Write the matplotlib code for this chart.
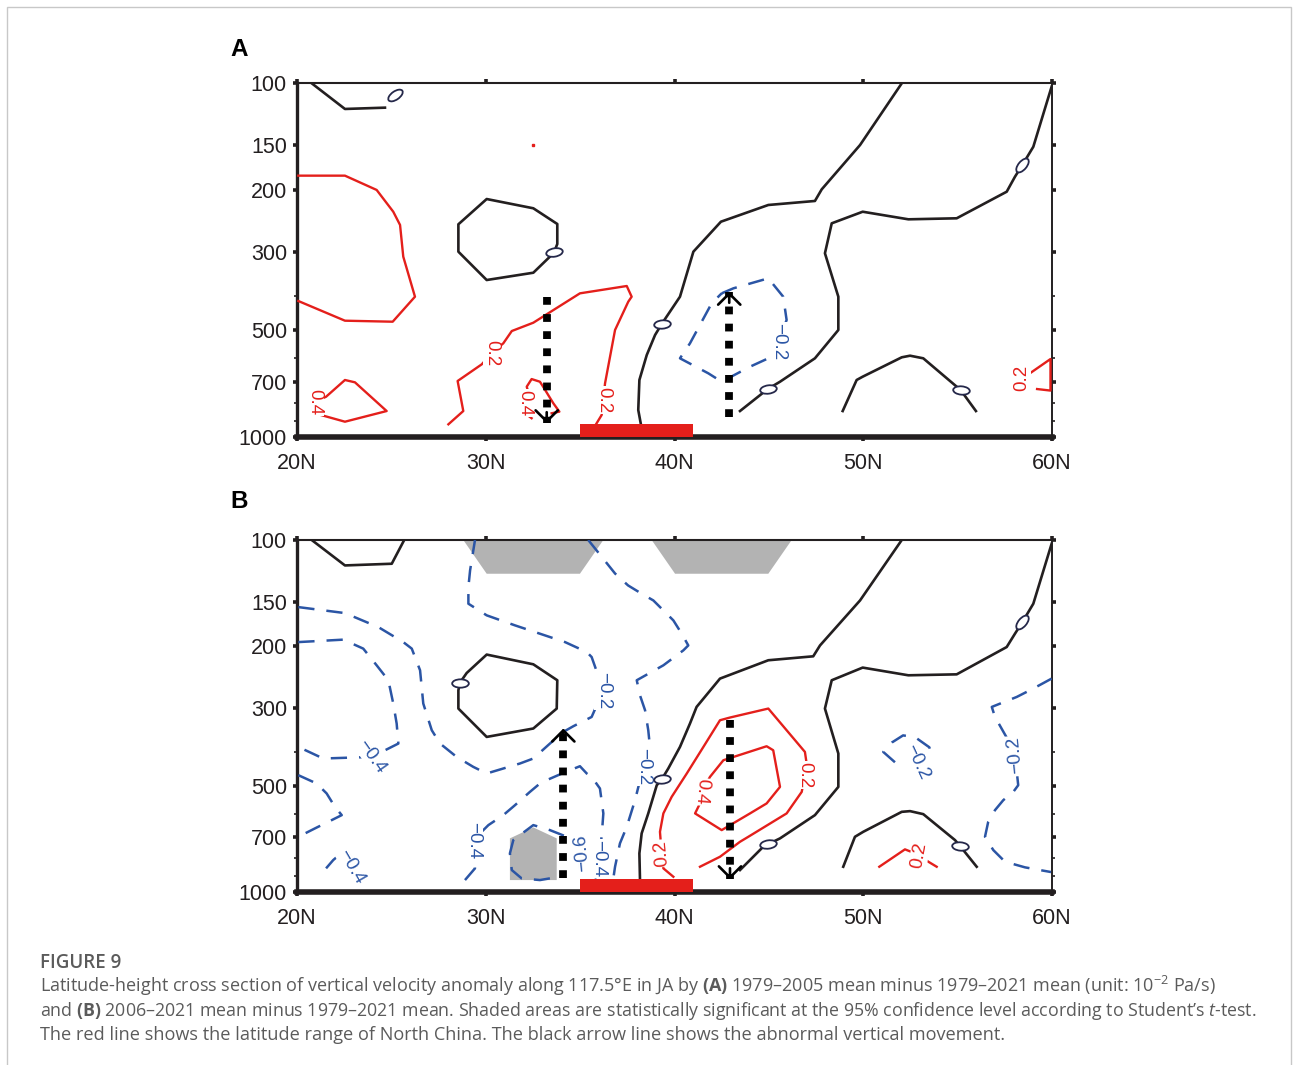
import numpy as np
import matplotlib.pyplot as plt
from matplotlib.path import Path
from matplotlib.transforms import Affine2D
from matplotlib.patches import Rectangle
from matplotlib.ticker import FixedLocator, NullFormatter

plt.rcParams['font.family'] = ['Liberation Sans', 'DejaVu Sans']
plt.rcParams['mathtext.fontset'] = 'custom'
plt.rcParams['mathtext.rm'] = 'Open Sans'
plt.rcParams['mathtext.bf'] = 'Open Sans:bold'
plt.rcParams['mathtext.it'] = 'Open Sans:italic'

# axes
lat_ticks = [20, 30, 40, 50, 60]
lat_labels = ['20N', '30N', '40N', '50N', '60N']
p_ticks = [100, 150, 200, 300, 500, 700, 1000]
p_minor = [400, 600, 800, 900]
north_china = [35, 41]      # latitude range of North China
north_china_top = 920

# ---------------- panel A (lat, hPa) ----------------
a_black = [
    [(20.78, 100.2), (22.54, 118.4), (24.66, 117.4)],
    [(33.63, 299.6), (33.40, 309.4), (32.52, 343.5), (30.05, 360.2), (28.55, 299.6), (28.55, 250.7),
     (30.05, 212.7), (32.52, 225.9), (33.79, 250.2), (33.79, 285), (33.63, 299.6)],
    [(38.21, 914.8), (38.08, 839.1), (38.14, 690.2), (38.53, 586.7), (38.97, 515.1), (39.32, 479.6),
     (40.29, 401.5), (41.0, 299.6), (42.46, 246.5), (44.97, 221.1), (47.44, 215.4), (47.80, 199.7),
     (49.83, 149.7), (52.04, 100.2)],
    [(43.47, 844.6), (44.94, 732), (45.59, 698), (47.44, 599.4), (48.68, 498.6), (48.68, 401.5),
     (47.97, 302.7), (48.33, 249.1), (49.97, 231), (52.39, 242.7), (54.95, 241.1), (57.60, 202.8),
     (58.04, 183.9), (58.43, 170.4), (59.01, 151.4), (59.98, 102.4)],
    [(48.91, 844.6), (49.65, 690.2), (49.97, 675.5), (52.04, 595.5), (52.48, 589.3), (53.18, 599.4),
     (54.91, 717.8), (55.16, 736.7), (55.97, 844.6)],
]
a_red = [
    [(20.07, 182.7), (22.54, 182.7), (24.22, 200.5), (25.10, 231), (25.46, 251.8), (25.63, 309.4),
     (26.25, 401.5), (25.07, 472.4), (22.54, 469.3), (20.07, 412.9)],
    [(28.02, 920.8), (28.81, 844.6), (28.51, 694.7), (29.79, 623.2), (30.32, 579.1), (30.93, 543.7),
     (31.38, 501.9), (32.52, 475.5), (34.99, 392.8), (37.47, 374.5), (37.73, 401.5), (37.55, 414.8),
     (36.85, 498.6), (36.32, 705.3), (36.23, 786.3), (36.14, 866.8), (35.84, 920.8)],
    [(32.43, 885), (32.08, 857), (32.08, 803), (32.25, 745), (32.17, 721), (32.43, 686), (32.87, 698),
     (33.04, 721), (33.31, 761), (33.58, 803), (33.90, 848), (33.49, 857)],
    [(20.95, 795), (21.54, 769.6), (22.54, 690.2), (23.07, 700.7), (24.75, 844.6), (22.54, 905.3),
     (20.95, 857.3), (20.95, 795)],
    [(58.83, 660.8), (59.92, 602.2), (59.92, 739.4), (59.21, 732)],
]
a_blue = [
    [(42.50, 392.8), (43.12, 380.2), (44.97, 356.2), (45.76, 401.5), (45.94, 467.2), (45.50, 538.1),
     (44.97, 599.4), (44.0, 633), (42.50, 698), (41.79, 660.8), (40.29, 599.4), (40.82, 543.7),
     (41.97, 419.1), (42.50, 392.8)],
]
a_labels = [
    (30.32, 579.1, '0.2', -90, 'r'),
    (32.08, 803, '0.4', -90, 'r'),
    (36.23, 786.3, '0.2', -90, 'r'),
    (20.95, 795, '0.4', -90, 'r'),
    (58.41, 681, '0.2', 90, 'r'),
    (45.50, 538, '\u22120.2', -90, 'b'),
]
a_zeros = [(25.19, 108.1, 35), (33.63, 299.6, 10), (39.32, 479.6, 5),
           (44.94, 732, 8), (58.43, 170.4, 50), (55.16, 736.7, -5)]
a_arrows = [(33.23, 401.5, 914.8), (42.90, 876.4, 388.6)]   # lat, tail, tip
a_shades = []
a_dots = [(32.50, 149.7)]

# ---------------- panel B (lat, hPa) ----------------
b_black = [
    [(20.78, 100), (22.54, 118.1), (25.02, 116.8), (25.68, 100)],
    [(28.64, 254), (28.99, 238.7), (30.05, 211.6), (32.52, 225.5), (33.79, 250.3), (33.76, 301.2),
     (32.52, 343.2), (30.05, 362.6), (28.55, 301.2), (28.55, 267.2), (28.64, 254)],
    [(38.17, 914.7), (38.14, 776.6), (38.26, 681.6), (38.61, 598.1), (39.06, 497.3), (39.32, 479),
     (39.67, 445.8), (40.29, 387.1), (40.82, 332.2), (41.17, 298), (42.41, 247.6), (44.97, 219.6),
     (47.35, 214), (47.71, 199.3), (49.83, 148.5), (52.04, 100)],
    [(43.47, 866.3), (44.70, 743.9), (44.94, 732.3), (45.59, 704.2), (47.44, 604.8), (48.68, 502.8),
     (48.68, 404.2), (47.97, 301.2), (48.33, 250.3), (49.97, 230.4), (52.39, 242.3), (54.95, 240.8),
     (57.60, 201.4), (58.04, 184.5), (58.43, 171.1), (59.01, 151.7), (59.98, 102.5)],
    [(48.94, 847.7), (49.56, 696.9), (50.0, 674.5), (52.04, 591.9), (52.48, 589.2), (53.18, 600.9),
     (54.86, 712), (55.13, 740.5), (56.01, 847.7)],
]
b_red = [
    [(39.94, 905.1), (39.41, 856.7), (39.32, 776.6), (39.23, 674.5), (39.41, 598.1), (39.85, 536.7),
     (40.65, 460.6), (41.53, 387.1), (42.41, 325.1), (42.94, 319.4), (44.97, 301.2), (46.91, 400),
     (47.0, 431.5), (46.91, 465.7), (46.74, 519.5), (45.94, 598.1), (43.91, 696.9), (43.47, 720),
     (42.41, 794.1), (41.35, 847.7)],
    [(41.44, 519.5), (41.88, 470.9), (42.59, 422.3), (44.88, 385.4), (45.23, 395.6), (45.59, 502.8),
     (44.88, 560.3), (44.0, 598.1), (42.50, 667.1), (41.09, 598.1), (41.35, 560.3), (41.44, 519.5)],
    [(50.85, 847.7), (52.21, 756.6), (52.97, 785.2), (53.45, 820.4), (53.89, 847.7)],
]
b_blue = [
    [(20.07, 155.1), (22.54, 161.3), (24.31, 176.8), (25.63, 195), (26.08, 203.5), (26.52, 234.5),
     (26.69, 291.5), (27.14, 347.1), (27.58, 378.7), (28.46, 413.3), (29.34, 441.1), (30.05, 460.6),
     (30.93, 445.8), (31.81, 431.5), (32.52, 417.6), (33.40, 378.7), (34.11, 350.9), (34.64, 338.1),
     (35.61, 318.2), (36.23, 267.2), (35.61, 215), (35.35, 208.1), (34.20, 195), (31.55, 174.8),
     (30.05, 163.7), (29.08, 151.7), (29.08, 136.1), (29.17, 122.0), (29.43, 100)],
    [(20.07, 195), (22.45, 191.9), (23.51, 203.5), (24.22, 227), (24.84, 250.3), (25.10, 291.5),
     (25.28, 332.2), (25.37, 378.7), (23.96, 413.3), (21.39, 417.6), (20.07, 387.1)],
    [(20.07, 465.7), (21.04, 491.7), (21.57, 524.8), (22.01, 572.9), (22.37, 604.8), (21.84, 624.8),
     (20.95, 659.7), (20.07, 696.9)],
    [(21.54, 856.7), (21.92, 811.4), (22.54, 760.1)],
    [(28.90, 924.9), (29.43, 856.7), (29.34, 712), (30.14, 645.6), (30.93, 604.8), (31.55, 566.6),
     (32.34, 519.5), (32.87, 491.7), (33.31, 479), (34.20, 456.7), (34.99, 439.2), (35.35, 460.6),
     (35.61, 470.9), (36.05, 508.1), (36.23, 598.1), (36.14, 696.9), (35.96, 802.4), (35.88, 885.3),
     (35.79, 914.7)],
    [(33.40, 914.7), (32.87, 924.9), (31.90, 914.7), (31.38, 866.3), (31.28, 776.6), (31.46, 712),
     (32.52, 645.6), (33.40, 667.1), (34.20, 693.7), (35.35, 712), (35.08, 776)],
    [(35.43, 100), (35.79, 105.7), (36.21, 112.8), (36.85, 124.5), (37.54, 134.6), (38.26, 142.1),
     (38.88, 148.5), (39.41, 158.5), (39.94, 169.2), (40.38, 184.5), (40.73, 199.3), (40.47, 205.8),
     (39.41, 227), (38.0, 250.3), (38.17, 276.1), (38.44, 304.5), (38.61, 347.1), (38.70, 387.1),
     (38.35, 441.1), (37.91, 548.3), (37.47, 652.9), (37.11, 727.5), (36.85, 847.7), (36.76, 914.7)],
    [(51.68, 428), (51.06, 400), (51.52, 376), (52.11, 359), (52.74, 363), (53.50, 388), (53.7, 420)],
    [(59.98, 247.6), (59.01, 264.2), (58.13, 279.2), (56.81, 298), (56.98, 318.2), (57.68, 370.6),
     (58.04, 408.7), (58.21, 497.3), (57.95, 519.5), (57.42, 548.3), (56.98, 585.4), (56.62, 631.9),
     (56.45, 696.9), (56.89, 760.1), (57.42, 811.4), (57.95, 833), (58.57, 851.1), (59.36, 866.3),
     (59.95, 877.7)],
]
b_labels = [
    (36.23, 267.2, '\u22120.2', -90, 'b'),
    (23.96, 413.3, '\u22120.4', -55, 'b'),
    (22.90, 847.7, '\u22120.4', -60, 'b'),
    (29.34, 712, '\u22120.4', -90, 'b'),
    (35.96, 802.4, '\u22120.4', -90, 'b'),
    (35.08, 776, '\u22120.6', 95, 'b'),
    (38.35, 441.1, '\u22120.2', -90, 'b'),
    (52.83, 427, '\u22120.2', -65, 'b'),
    (58.04, 408.7, '\u22120.2', 95, 'b'),
    (39.32, 776.6, '0.2', 95, 'r'),
    (46.91, 465.7, '0.2', -90, 'r'),
    (41.44, 519.5, '0.4', -95, 'r'),
    (52.97, 785.2, '0.2', 80, 'r'),
]
b_zeros = [(28.64, 254, 0), (39.32, 479, 5), (44.94, 732.3, 8),
           (58.43, 171.1, 50), (55.13, 740.5, -5)]
b_arrows = [(34.11, 914.7, 343.2), (42.94, 325.1, 920.5)]
b_shades = [
    ([28.81, 30.05, 34.99, 36.23], [100, 124.7, 124.7, 100]),
    ([38.79, 40.03, 44.97, 46.21], [100, 124.7, 124.7, 100]),
    ([31.28, 32.52, 33.76, 33.76, 31.28], [704.2, 655.4, 704.2, 924.9, 924.9]),
]
b_dots = []

BLACK = '#231f20'
RED = '#e41f1b'
BLUE = '#2b55a5'
NAVY = '#25284a'
GRAY = '#b3b3b3'
colors = {'r': RED, 'b': BLUE}


def zero_marker(angle):
    path = Affine2D().scale(1, 0.5).rotate_deg(angle).transform_path(Path.unit_circle())
    return path, np.abs(path.vertices).max()


def draw_panel(ax, black, red, blue, labels, zeros, arrows, shades, dots):
    for lat, p in shades:
        ax.fill(lat, p, color=GRAY, lw=0, zorder=1)
    for line in black:
        lat, p = zip(*line)
        ax.plot(lat, p, color=BLACK, lw=1.9, zorder=3)
    for line in red:
        lat, p = zip(*line)
        ax.plot(lat, p, color=RED, lw=1.7, zorder=3)
    for line in blue:
        lat, p = zip(*line)
        ax.plot(lat, p, color=BLUE, lw=1.8, ls=(0, (6.5, 4.8)), zorder=3)
    for lat, p in dots:
        ax.plot(lat, p, 's', ms=1.5, color=RED, zorder=3)
    for lat, p, txt, rot, c in labels:
        ax.text(lat, p, txt, color=colors[c], fontsize=13.5, rotation=rot,
                ha='center', va='center', rotation_mode='anchor', zorder=4,
                bbox=dict(fc='white', ec='none', pad=0.5))
    for lat, p, ang in zeros:
        m, ext = zero_marker(ang)
        ax.plot(lat, p, marker=m, ms=12 * ext, mfc='white', mec=NAVY, mew=1.3,
                ls='none', zorder=5)
    for lat, tail, tip in arrows:
        ax.plot([lat, lat], [tail, tip], color='black', lw=5.6, ls=(0, (1, 1.2)),
                dash_capstyle='butt', zorder=6)
        off = 8 if tip > tail else -8
        ax.annotate('', xy=(lat, tip), xytext=(0, off), textcoords='offset points',
                    arrowprops=dict(arrowstyle='->,head_length=0.4,head_width=0.4',
                                    color='black', lw=1.9, mutation_scale=20,
                                    shrinkA=0, shrinkB=0), zorder=6)
    ax.fill_between(north_china, north_china_top, 1000, color=RED, lw=0,
                    zorder=7, clip_on=False)

    ax.set_yscale('log')
    ax.set_xlim(20, 60)
    ax.set_ylim(1000, 100)
    ax.set_xticks(lat_ticks)
    ax.set_xticklabels(lat_labels)
    ax.yaxis.set_major_locator(FixedLocator(p_ticks))
    ax.set_yticklabels([str(v) for v in p_ticks])
    ax.yaxis.set_minor_locator(FixedLocator(p_minor))
    ax.yaxis.set_minor_formatter(NullFormatter())
    ax.xaxis.set_minor_locator(FixedLocator([]))
    ax.tick_params(which='major', direction='out', length=3.2, width=2.6,
                   top=True, right=True, labelsize=15.5, labelcolor=BLACK, color=BLACK)
    ax.tick_params(axis='y', which='major', pad=4)
    ax.tick_params(axis='x', which='major', pad=8)
    ax.tick_params(axis='y', which='minor', direction='out', length=2.5, width=1.2,
                   left=True, right=True, color=BLACK)
    for side, w in [('bottom', 4.0), ('left', 2.4), ('top', 1.5), ('right', 1.4)]:
        ax.spines[side].set_linewidth(w)
        ax.spines[side].set_color(BLACK)


fig = plt.figure(figsize=(12.93, 10.65), dpi=100)
ax_a = fig.add_axes([297 / 1293, 1 - 437 / 1065, 755 / 1293, 354 / 1065])
ax_b = fig.add_axes([297 / 1293, 1 - 892 / 1065, 755 / 1293, 352 / 1065])
draw_panel(ax_a, a_black, a_red, a_blue, a_labels, a_zeros, a_arrows, a_shades, a_dots)
draw_panel(ax_b, b_black, b_red, b_blue, b_labels, b_zeros, b_arrows, b_shades, b_dots)

fig.text(239.5 / 1293, 1 - 49 / 1065, 'A', fontsize=17.5, fontweight='bold',
         ha='center', va='center', color='black')
fig.text(239.5 / 1293, 1 - 502 / 1065, 'B', fontsize=17.5, fontweight='bold',
         ha='center', va='center', color='black')

# outer frame
fig.patches.append(Rectangle((7 / 1293, -0.01), 1284 / 1293, 1.01 - 7 / 1065,
                             transform=fig.transFigure, fill=False, ec='#c8c8c8', lw=1))

cap_color = '#5b5b5b'
fig.text(40 / 1293, 1 - 968 / 1065, 'FIGURE 9', fontsize=13.5, family='Open Sans',
         fontweight='semibold', color=cap_color, va='baseline')
caption = [
    r'Latitude-height cross section of vertical velocity anomaly along 117.5°E in JA by $\mathbf{(A)}$'
    r' 1979–2005 mean minus 1979–2021 mean (unit: 10$^{-2}$ Pa/s)',
    r'and $\mathbf{(B)}$ 2006–2021 mean minus 1979–2021 mean. Shaded areas are statistically significant'
    r' at the 95% confidence level according to Student’s $\mathit{t}$-test.',
    'The red line shows the latitude range of North China. The black arrow line shows the abnormal vertical movement.',
]
cap_sizes = [12.95, 12.8, 13.1]
for i, line in enumerate(caption):
    fig.text(40 / 1293, 1 - (992 + 24 * i) / 1065, line, fontsize=cap_sizes[i], family='Open Sans',
             color=cap_color, va='baseline')

fig.savefig('out.png', dpi=100, facecolor='white')
